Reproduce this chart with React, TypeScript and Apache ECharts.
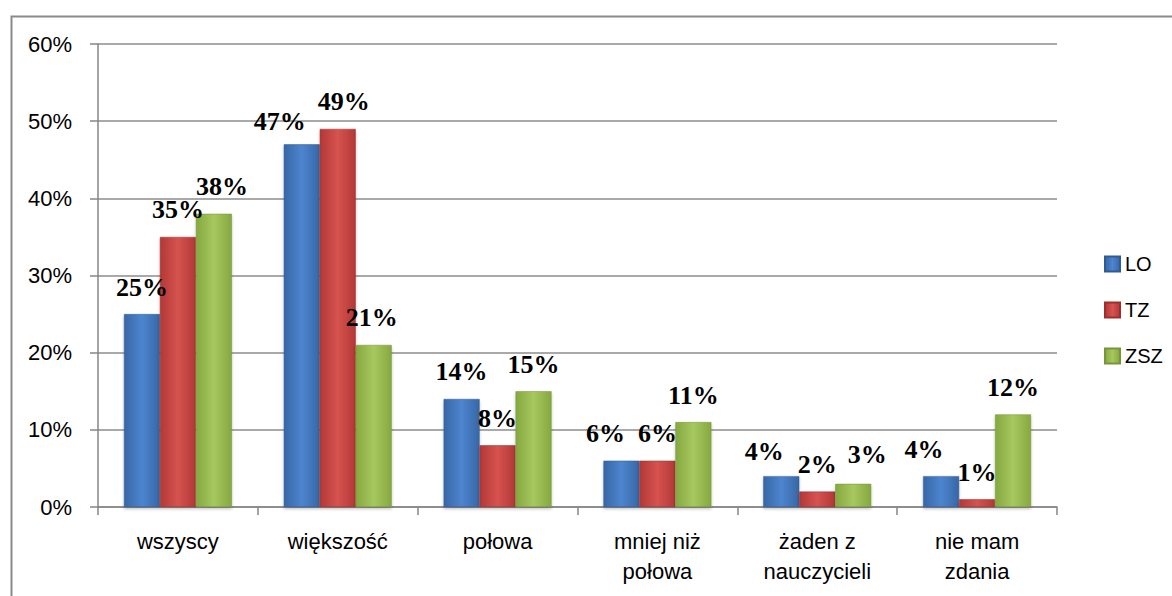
import React, { useEffect, useRef } from "react";
import * as echarts from "echarts";

const categories = ["wszyscy", "większość", "połowa", "mniej niż\npołowa", "żaden z\nnauczycieli", "nie mam\nzdania"];
const seriesNames = ["LO", "TZ", "ZSZ"];
const valuesLO = [25, 47, 14, 6, 4, 4];
const valuesTZ = [35, 49, 8, 6, 2, 1];
const valuesZSZ = [38, 21, 15, 11, 3, 12];
const yTicks = [0, 10, 20, 30, 40, 50, 60];

// manual label nudges [dx, dy] per series per category (layout only)
const labelOffsets: number[][][] = [
  [[0, 0], [-22, 4], [0, 0], [-16, 0], [-17, 2], [-17, 0]],
  [[0, 0], [6, 0], [0, 0], [0, 0], [0, 0], [0, 0]],
  [[8, 0], [-2, 0], [0, 0], [0, 0], [14, -2], [0, 0]],
];

const grad = (edge: string, mid: string) =>
  new echarts.graphic.LinearGradient(0, 0, 1, 0, [
    { offset: 0, color: edge },
    { offset: 0.5, color: mid },
    { offset: 1, color: edge },
  ]);

export default function App() {
  const ref = useRef<HTMLDivElement>(null);
  useEffect(() => {
    if (!ref.current) return;
    const chart = echarts.init(ref.current, null, { renderer: "svg" });
    const colors = [
      { edge: "#3767a6", mid: "#4d85cf", border: "#2f5b93" },
      { edge: "#b23836", mid: "#d65350", border: "#9c2f2d" },
      { edge: "#86a840", mid: "#a6c85f", border: "#779538" },
    ];
    const allValues = [valuesLO, valuesTZ, valuesZSZ];
    const series = seriesNames.map((name, si) => ({
      name,
      type: "bar",
      barGap: "0%",
      barCategoryGap: "32.5%",
      itemStyle: {
        color: grad(colors[si].edge, colors[si].mid),
        borderColor: colors[si].border,
        borderWidth: 0.5,
        shadowColor: "rgba(0,0,0,0.25)",
        shadowBlur: 3,
        shadowOffsetY: 2,
      },
      data: allValues[si].map((v, ci) => ({
        value: v,
        label: { offset: labelOffsets[si][ci] },
      })),
      label: {
        show: true,
        position: "top",
        distance: 14,
        formatter: (p: any) => p.value + "%",
        fontFamily: "'Liberation Serif', 'Times New Roman', serif",
        fontWeight: "bold",
        fontSize: 26,
        color: "#000",
      },
    }));
    chart.setOption({
      animation: false,
      backgroundColor: "#fff",
      color: colors.map((c) => c.mid),
      grid: { left: 98, right: 115, top: 44, bottom: 89, containLabel: false },
      legend: {
        orient: "vertical",
        left: 1099,
        top: 249,
        itemWidth: 15,
        itemHeight: 15,
        itemGap: 26,
        icon: "rect",
        textStyle: { fontFamily: "'Liberation Sans', Arial, sans-serif", fontSize: 20, color: "#000" },
        data: seriesNames,
      },
      xAxis: {
        type: "category",
        data: categories,
        axisLine: { lineStyle: { color: "#868686", width: 1.5 } },
        axisTick: { show: true, length: 8, lineStyle: { color: "#868686", width: 1.5 } },
        axisLabel: {
          color: "#000",
          fontFamily: "'Liberation Sans', Arial, sans-serif",
          fontSize: 22,
          lineHeight: 30,
          margin: 19,
          interval: 0,
        },
      },
      yAxis: {
        type: "value",
        min: yTicks[0],
        max: yTicks[yTicks.length - 1],
        interval: 10,
        axisLine: { show: true, lineStyle: { color: "#868686", width: 1.5 } },
        axisTick: { show: true, length: 8, lineStyle: { color: "#868686", width: 1.5 } },
        splitLine: { lineStyle: { color: "#8c8c8c", width: 1.5 } },
        axisLabel: {
          color: "#000",
          fontFamily: "'Liberation Sans', Arial, sans-serif",
          fontSize: 22,
          margin: 26,
          formatter: (v: number) => v + "%",
        },
      },
      graphic: [
        {
          type: "rect",
          left: 9,
          top: 14,
          shape: { x: 0, y: 0, width: 1200, height: 620 },
          style: { fill: "none", stroke: "#8a8a8a", lineWidth: 2 },
          silent: true,
          z: 0,
        },
      ],
      series,
    });
    return () => chart.dispose();
  }, []);
  return (
    <div
      ref={ref}
      style={{ position: "fixed", left: 0, top: 0, width: 1172, height: 596, background: "#fff" }}
    />
  );
}
